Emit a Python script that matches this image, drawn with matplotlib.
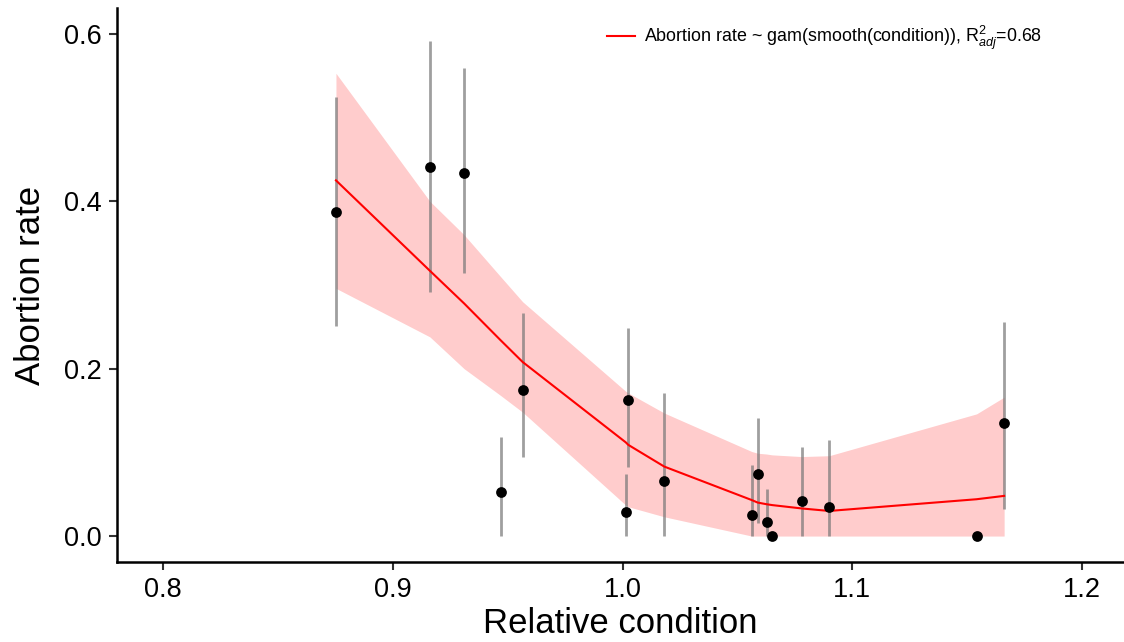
import numpy as np
import matplotlib
matplotlib.use('Agg')
import matplotlib.pyplot as plt

plt.rcParams['font.family'] = ['Liberation Sans', 'DejaVu Sans']
plt.rcParams['mathtext.fontset'] = 'custom'
plt.rcParams['mathtext.rm'] = 'Liberation Sans'
plt.rcParams['mathtext.it'] = 'Liberation Sans:italic'

# observed abortion rate per relative condition, with error bar limits
condition = [0.8752, 0.9161, 0.9310, 0.9469, 0.9565, 1.0014, 1.0025, 1.0182,
             1.0563, 1.0589, 1.0628, 1.0652, 1.0780, 1.0900, 1.1542, 1.1662]
rate = [0.387, 0.441, 0.434, 0.053, 0.175, 0.029, 0.162, 0.066,
        0.025, 0.074, 0.017, 0.000, 0.042, 0.035, 0.000, 0.135]
rate_lo = [0.251, 0.292, 0.314, 0.000, 0.094, 0.000, 0.082, 0.000,
           0.000, 0.016, 0.000, 0.000, 0.000, 0.000, 0.000, 0.032]
rate_hi = [0.525, 0.592, 0.559, 0.118, 0.266, 0.074, 0.249, 0.171,
           0.085, 0.141, 0.056, 0.000, 0.107, 0.115, 0.000, 0.256]

# gam fit evaluated at the same conditions, with confidence band
fit = [0.425, 0.317, 0.278, 0.234, 0.208, 0.112, 0.109, 0.083,
       0.043, 0.040, 0.038, 0.037, 0.033, 0.030, 0.044, 0.048]
fit_lo = [0.296, 0.238, 0.200, 0.168, 0.148, 0.037, 0.035, 0.023,
          0.000, 0.000, 0.000, 0.000, 0.000, 0.000, 0.000, 0.000]
fit_hi = [0.553, 0.400, 0.360, 0.310, 0.280, 0.173, 0.171, 0.147,
          0.101, 0.099, 0.098, 0.097, 0.095, 0.096, 0.146, 0.166]

x = np.array(condition)
y = np.array(rate)
yerr = np.array([y - np.array(rate_lo), np.array(rate_hi) - y])

fig = plt.figure(figsize=(11.24, 6.42), dpi=100)
ax = fig.add_axes([0.104, 0.1246, 0.896, 0.863])

ax.fill_between(x, fit_lo, fit_hi, color='#ff0000', alpha=0.2, linewidth=0, zorder=1)
ax.errorbar(x, y, yerr=yerr, fmt='none', ecolor='#777777', alpha=0.7,
            elinewidth=2, capsize=0, zorder=2)
ax.plot(x, fit, color='#ff0000', linewidth=1.5, zorder=3,
        label=r'Abortion rate ~ gam(smooth(condition)), R$^2_{adj}$=0.68')
ax.scatter(x, y, s=60, color='black', zorder=4, linewidths=0)

ax.set_xlim(0.7798, 1.2184)
ax.set_ylim(-0.031, 0.631)
ax.set_xticks([0.8, 0.9, 1.0, 1.1, 1.2])
ax.set_xticklabels(['0.8', '0.9', '1.0', '1.1', '1.2'])
ax.set_yticks([0.0, 0.2, 0.4, 0.6])
ax.set_yticklabels(['0.0', '0.2', '0.4', '0.6'])

for side in ['top', 'right']:
    ax.spines[side].set_visible(False)
for side in ['left', 'bottom']:
    ax.spines[side].set_linewidth(1.8)
ax.tick_params(axis='both', labelsize=19.5, length=6, width=1.5, color='#333333',
               labelcolor='black')
ax.tick_params(axis='x', pad=5)
ax.tick_params(axis='y', pad=5)

ax.set_xlabel('Relative condition', fontsize=25, labelpad=3)
ax.set_ylabel('Abortion rate', fontsize=25, labelpad=12)

ax.legend(loc='center right', bbox_to_anchor=(0.935, 0.9455), frameon=False,
          fontsize=12.9, handlelength=1.6, handletextpad=0.5)

fig.savefig('out.png', dpi=100)
